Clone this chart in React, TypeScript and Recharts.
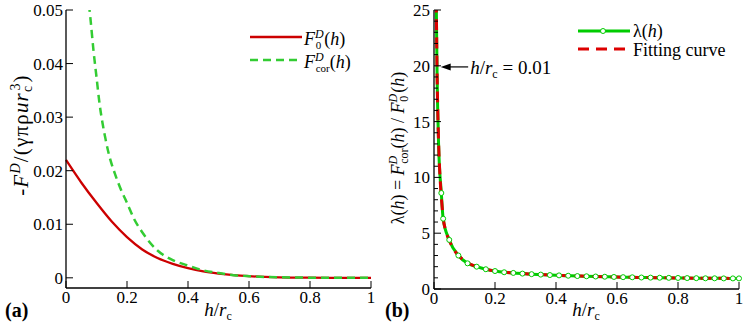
import React from 'react';
import { LineChart, Line, XAxis, YAxis, Legend, ReferenceLine } from 'recharts';

const SERIF = 'Liberation Serif';
const INK = '#000';

// ---- panel (a): dimensionless drag force vs h/rc ----
const f0H = [0, 0.05, 0.1, 0.15, 0.2, 0.25, 0.3, 0.35, 0.4, 0.45, 0.5, 0.55, 0.6, 0.7, 0.8, 0.9, 1];
const f0Val = [0.022, 0.0178, 0.014, 0.0105, 0.0076, 0.0053, 0.0037, 0.0026, 0.0018, 0.0012, 0.0008, 0.0005, 0.0003, 0.0001, 0.00003, 0, 0];
const fcorH = [0.07, 0.08, 0.09, 0.1, 0.11, 0.12, 0.13, 0.14, 0.16, 0.18, 0.2, 0.225, 0.25, 0.3, 0.35, 0.4, 0.45, 0.5, 0.55, 0.6, 0.7, 0.8, 0.9, 1];
const fcorVal = [0.0535, 0.0485, 0.0425, 0.0375, 0.0325, 0.0288, 0.0258, 0.0232, 0.0195, 0.0165, 0.014, 0.0108, 0.0085, 0.0051, 0.0033, 0.0023, 0.0014, 0.0009, 0.0005, 0.0003, 0.0001, 0.00003, 0, 0];

// ---- panel (b): correction ratio lambda(h) and its fit ----
const lambdaH = [0.006, 0.008, 0.01, 0.015, 0.024, 0.03, 0.05, 0.08, 0.11, 0.14, 0.17, 0.2, 0.23, 0.26, 0.29, 0.32, 0.35, 0.38, 0.41, 0.44, 0.47, 0.5, 0.53, 0.56, 0.59, 0.62, 0.65, 0.68, 0.71, 0.74, 0.77, 0.8, 0.83, 0.86, 0.89, 0.92, 0.95, 0.98, 1];
const lambdaVal = [29, 24.3, 19.5, 13.0, 8.6, 6.3, 4.4, 3.0, 2.3, 2.0, 1.77, 1.61, 1.5, 1.44, 1.38, 1.33, 1.29, 1.25, 1.22, 1.19, 1.16, 1.14, 1.12, 1.1, 1.08, 1.06, 1.05, 1.03, 1.02, 1.01, 1.0, 0.99, 0.98, 0.97, 0.96, 0.96, 0.95, 0.95, 0.95];
const markerStart = 0.02;
const fitH = [0.006, 0.008, 0.01, 0.0125, 0.015, 0.02, 0.025, 0.03, 0.04, 0.05, 0.065, 0.08, 0.1, 0.12, 0.14, 0.17, 0.2, 0.25, 0.3, 0.35, 0.4, 0.5, 0.6, 0.7, 0.8, 0.9, 1];
const fitVal = [29, 24.2, 19.6, 15.8, 13.2, 9.9, 7.9, 6.4, 5.1, 4.35, 3.55, 3.0, 2.55, 2.22, 2.0, 1.78, 1.62, 1.46, 1.37, 1.29, 1.23, 1.14, 1.07, 1.02, 0.99, 0.96, 0.95];

const xTicks = [0, 0.2, 0.4, 0.6, 0.8, 1];
const aYTicks = [0, 0.01, 0.02, 0.03, 0.04, 0.05];
const bYMajor = [0, 5, 10, 15, 20, 25];
const bYTicks = Array.from({ length: 26 }, (_, i) => i);

const arrowLevel = 19.9;
const arrowTipH = 0.022;
const arrowTailH = 0.112;

const zip = (hs: number[], vs: number[]) => hs.map((h, i) => ({ h, v: vs[i] }));
const f0Pts = zip(f0H, f0Val);
const fcorPts = zip(fcorH, fcorVal);
const lambdaPts = zip(lambdaH, lambdaVal);
const fitPts = zip(fitH, fitVal);

const fmtA = (v: number) => (v === 0 ? '0' : v.toFixed(2));
const fmtB = (v: number) => String(v);
const fmtX = (v: number) => (v === 0 || v === 1 ? String(v) : v.toFixed(1));

const serif = { fontFamily: SERIF };

// ticks point inward, like the original plotting package
function yTick(side: 'left' | 'right', majors: number[], fmt: (v: number) => string, gap: number) {
  return (p: any) => {
    const v = p.payload.value;
    const major = majors.some((m) => Math.abs(m - v) < 1e-9);
    const dir = side === 'left' ? 1 : -1;
    return (
      <g>
        <line x1={p.x} x2={p.x + dir * (major ? 7 : 4)} y1={p.y} y2={p.y} stroke={INK} strokeWidth={1} />
        {side === 'left' && major ? (
          <text x={p.x - gap} y={p.y} dy={6} textAnchor="end" style={serif} fontSize={17} fill={INK}>
            {fmt(v)}
          </text>
        ) : null}
      </g>
    );
  };
}

const xTick = (p: any) => (
  <g>
    <line x1={p.x} x2={p.x} y1={p.y} y2={p.y - 7} stroke={INK} strokeWidth={1} />
    <text x={p.x} y={p.y + 15} textAnchor="middle" style={serif} fontSize={17} fill={INK}>
      {fmtX(p.payload.value)}
    </text>
  </g>
);

const XTitle = ({ cx, tag, tagX }: { cx: number; tag: string; tagX: number }) => (
  <g fill={INK}>
    <text x={cx} y={316} textAnchor="middle" fontSize={19} style={serif}>
      <tspan fontStyle="italic">h</tspan>/<tspan fontStyle="italic">r</tspan>
      <tspan fontSize={12} dy={4}>c</tspan>
    </text>
    <text x={tagX} y={317} fontSize={20} fontWeight="bold" style={serif}>
      {tag}
    </text>
  </g>
);

const aYTitle = () => (
  <text x={28} y={135} transform="rotate(-90 28 135)" textAnchor="middle" style={{ ...serif, letterSpacing: 1.2 }} fontSize={21} fill={INK}>
    <tspan>-</tspan>
    <tspan fontStyle="italic">F</tspan>
    <tspan fontSize={14} fontStyle="italic" dy={-8}>D</tspan>
    <tspan dy={8}>/(γπρ</tspan>
    <tspan fontStyle="italic">ur</tspan>
    <tspan fontSize={14} dy={4}>c</tspan>
    <tspan fontSize={14} dx={-6} dy={-12}>3</tspan>
    <tspan dy={8}>)</tspan>
  </text>
);

const bYTitle = () => (
  <text x={24} y={148} transform="rotate(-90 24 148)" textAnchor="middle" style={serif} fontSize={18} fill={INK}>
    <tspan>λ(</tspan>
    <tspan fontStyle="italic">h</tspan>
    <tspan>) = </tspan>
    <tspan fontStyle="italic">F</tspan>
    <tspan fontSize={12} fontStyle="italic" dy={-7}>D</tspan>
    <tspan fontSize={12} dx={-8} dy={11}>cor</tspan>
    <tspan dy={-4}>(</tspan>
    <tspan fontStyle="italic">h</tspan>
    <tspan>) / </tspan>
    <tspan fontStyle="italic">F</tspan>
    <tspan fontSize={12} fontStyle="italic" dy={-7}>D</tspan>
    <tspan fontSize={12} dx={-8} dy={11}>0</tspan>
    <tspan dx={3} dy={-4}>(</tspan>
    <tspan fontStyle="italic">h</tspan>
    <tspan>)</tspan>
  </text>
);

const FLabel = ({ x, y, sub }: { x: number; y: number; sub: string }) => (
  <text x={x} y={y} style={serif} fontSize={18} fill={INK}>
    <tspan fontStyle="italic">F</tspan>
    <tspan fontSize={12} fontStyle="italic" dy={-7}>D</tspan>
    <tspan fontSize={11} dx={-8} dy={11}>{sub}</tspan>
    <tspan dx={sub.length > 1 ? 0 : 3} dy={-4}>(</tspan>
    <tspan fontStyle="italic">h</tspan>
    <tspan>)</tspan>
  </text>
);

const legendA = () => (
  <svg width={375} height={80}>
    <line x1={250} x2={302} y1={37} y2={37} stroke="#cc0000" strokeWidth={2.5} />
    <FLabel x={304} y={45} sub="0" />
    <line x1={250} x2={302} y1={60} y2={60} stroke="#33cc33" strokeWidth={2.5} strokeDasharray="8 5" />
    <FLabel x={304} y={68} sub="cor" />
  </svg>
);

const legendB = () => (
  <svg width={367} height={70}>
    <line x1={198} x2={250} y1={31} y2={31} stroke="#00cc00" strokeWidth={3} />
    <circle cx={223} cy={31} r={2.5} fill="#fff" stroke="#00cc00" strokeWidth={1} />
    <text x={253} y={37} style={serif} fontSize={18} fill={INK}>
      λ(<tspan fontStyle="italic">h</tspan>)
    </text>
    <line x1={198} x2={250} y1={49} y2={49} stroke="#dd0000" strokeWidth={3} strokeDasharray="11 7" />
    <text x={253} y={56} style={serif} fontSize={18} fill={INK}>
      Fitting curve
    </text>
  </svg>
);

const arrowShape = (p: any) => {
  const tip = Math.min(p.x1, p.x2);
  const tail = Math.max(p.x1, p.x2);
  const y = p.y1;
  return (
    <g>
      <line x1={tip + 6} x2={tail} y1={y} y2={y} stroke={INK} strokeWidth={1.2} />
      <polygon points={`${tip},${y} ${tip + 10},${y - 3.5} ${tip + 10},${y + 3.5}`} fill={INK} />
      <text x={tail + 2} y={y + 7} style={serif} fontSize={19} fill={INK}>
        <tspan fontStyle="italic">h</tspan>/<tspan fontStyle="italic">r</tspan>
        <tspan fontSize={12} dy={4}>c</tspan>
        <tspan dy={-4}> = 0.01</tspan>
      </text>
    </g>
  );
};

const markerDot = (p: any) =>
  p.payload.h >= markerStart ? (
    <circle key={p.index} cx={p.cx} cy={p.cy} r={2.5} fill="#fff" stroke="#00cc00" strokeWidth={1} />
  ) : (
    <g key={p.index} />
  );

export default function App() {
  return (
    <div style={{ position: 'absolute', left: 0, top: 0, width: 747, height: 324, background: '#fff' }}>
      <div style={{ position: 'absolute', left: 0, top: 0 }}>
        <LineChart width={375} height={324} margin={{ top: 10, right: 4, bottom: 6, left: 16 }}>
          <XAxis
            dataKey="h"
            type="number"
            domain={[0, 1]}
            ticks={xTicks}
            interval={0}
            height={30}
            tickSize={0}
            tickMargin={0}
            tickLine={false}
            tick={xTick}
            axisLine={{ stroke: INK, strokeWidth: 1.3 }}
            label={{ content: () => <XTitle cx={218} tag="(a)" tagX={5} /> }}
          />
          <XAxis xAxisId="top" orientation="top" type="number" domain={[0, 1]} height={0} tick={false} tickLine={false} axisLine={{ stroke: INK, strokeWidth: 1.3 }} />
          <YAxis
            yAxisId="l"
            type="number"
            domain={[-0.0019, 0.05]}
            allowDataOverflow
            ticks={aYTicks}
            interval={0}
            width={50}
            tickSize={0}
            tickMargin={0}
            tickLine={false}
            tick={yTick('left', aYTicks, fmtA, 3)}
            axisLine={{ stroke: INK, strokeWidth: 1.3 }}
            label={{ content: aYTitle }}
          />
          <YAxis
            yAxisId="r"
            orientation="right"
            type="number"
            domain={[-0.0019, 0.05]}
            ticks={aYTicks}
            interval={0}
            width={0}
            tickSize={0}
            tickMargin={0}
            tickLine={false}
            tick={yTick('right', aYTicks, fmtA, 3)}
            axisLine={{ stroke: INK, strokeWidth: 1.3 }}
          />
          <Line yAxisId="l" data={f0Pts} dataKey="v" type="monotone" stroke="#cc0000" strokeWidth={2.3} dot={false} isAnimationActive={false} />
          <Line yAxisId="l" data={fcorPts} dataKey="v" type="monotone" stroke="#33cc33" strokeWidth={2.5} strokeDasharray="8 5" dot={false} isAnimationActive={false} />
          <Legend content={legendA} layout="horizontal" verticalAlign="middle" align="center" wrapperStyle={{ left: 0, top: 0, width: 375, height: 80, pointerEvents: 'none' }} />
        </LineChart>
      </div>

      <div style={{ position: 'absolute', left: 380, top: 0 }}>
        <LineChart width={367} height={324} margin={{ top: 10, right: 8, bottom: 5, left: 4 }}>
          <XAxis
            dataKey="h"
            type="number"
            domain={[0, 1]}
            ticks={xTicks}
            interval={0}
            height={30}
            tickSize={0}
            tickMargin={0}
            tickLine={false}
            tick={xTick}
            axisLine={{ stroke: INK, strokeWidth: 1.3 }}
            label={{ content: () => <XTitle cx={206} tag="(b)" tagX={5} /> }}
          />
          <XAxis xAxisId="top" orientation="top" type="number" domain={[0, 1]} height={0} tick={false} tickLine={false} axisLine={{ stroke: INK, strokeWidth: 1.3 }} />
          <YAxis
            yAxisId="l"
            type="number"
            domain={[0, 25]}
            allowDataOverflow
            ticks={bYTicks}
            interval={0}
            width={50}
            tickSize={0}
            tickMargin={0}
            tickLine={false}
            tick={yTick('left', bYMajor, fmtB, 4)}
            axisLine={{ stroke: INK, strokeWidth: 1.3 }}
            label={{ content: bYTitle }}
          />
          <YAxis
            yAxisId="r"
            orientation="right"
            type="number"
            domain={[0, 25]}
            ticks={bYTicks}
            interval={0}
            width={0}
            tickSize={0}
            tickMargin={0}
            tickLine={false}
            tick={yTick('right', bYMajor, fmtB, 4)}
            axisLine={{ stroke: INK, strokeWidth: 1.3 }}
          />
          <Line yAxisId="l" data={lambdaPts} dataKey="v" type="monotone" stroke="#00cc00" strokeWidth={3} dot={false} isAnimationActive={false} />
          <Line yAxisId="l" data={fitPts} dataKey="v" type="monotone" stroke="#dd0000" strokeWidth={3} strokeDasharray="11 7" dot={false} isAnimationActive={false} />
          <Line yAxisId="l" data={lambdaPts} dataKey="v" stroke="none" dot={markerDot} legendType="none" isAnimationActive={false} />
          <ReferenceLine
            yAxisId="l"
            segment={[
              { x: arrowTipH, y: arrowLevel },
              { x: arrowTailH, y: arrowLevel },
            ]}
            shape={arrowShape}
          />
          <Legend content={legendB} layout="horizontal" verticalAlign="middle" align="center" wrapperStyle={{ left: 0, top: 0, width: 367, height: 70, pointerEvents: 'none' }} />
        </LineChart>
      </div>
    </div>
  );
}
